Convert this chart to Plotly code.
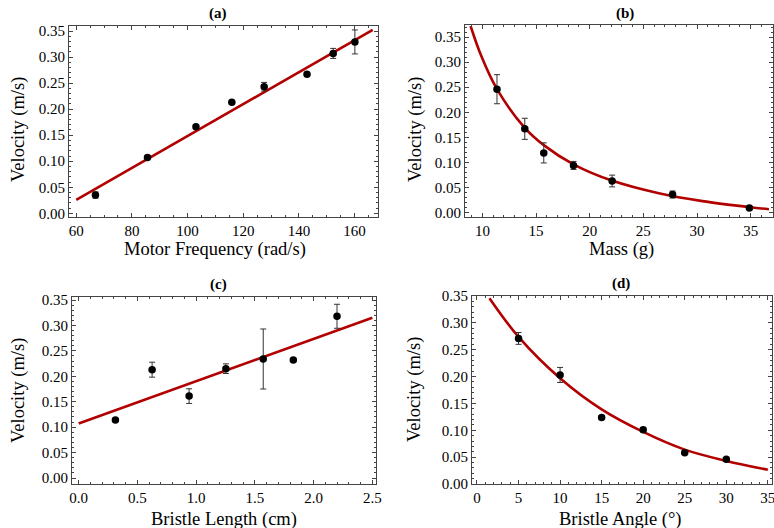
import plotly.graph_objects as go

W, H = 774, 528
FONT = "Liberation Serif"
RED = "#b20000"
FRAME = "#444444"

# ---------------- data ----------------
# (a) Motor frequency
a_x = [66.9, 85.6, 103.0, 115.9, 127.5, 142.9, 152.3, 160.1]
a_y = [0.035, 0.107, 0.166, 0.213, 0.243, 0.267, 0.307, 0.329]
a_err = [0.006, 0.003, 0.004, 0.003, 0.0083, 0.003, 0.0096, 0.023]
a_fit_x = [60, 166.5]
a_fit_y = [0.026, 0.352]

# (b) Mass
b_x = [11.36, 13.95, 15.72, 18.49, 22.09, 27.72, 34.88]
b_y = [0.246, 0.167, 0.119, 0.094, 0.063, 0.036, 0.009]
b_err = [0.029, 0.021, 0.020, 0.008, 0.0117, 0.007, 0.003]
b_fit_x = [8.9, 9.9, 11.36, 13.95, 15.72, 18.49, 22.06, 26.54, 30.5, 34.93, 36.7]
b_fit_y = [0.372, 0.312, 0.246, 0.169, 0.1345, 0.0962, 0.0638, 0.038, 0.0228, 0.0107, 0.0068]

# (c) Bristle length
c_x = [0.3125, 0.625, 0.94, 1.253, 1.571, 1.827, 2.199]
c_y = [0.114, 0.213, 0.161, 0.215, 0.234, 0.232, 0.318]
c_err = [0.003, 0.0147, 0.0144, 0.0095, 0.059, 0.003, 0.0236]
c_fit_x = [0.0, 2.5]
c_fit_y = [0.107, 0.315]

# (d) Bristle angle
d_x = [5, 10, 15, 20, 25, 30]
d_y = [0.271, 0.203, 0.124, 0.101, 0.058, 0.046]
d_err = [0.011, 0.014, 0.003, 0.004, 0.003, 0.003]
d_fit_x = [1.5, 5, 10, 15, 20, 25, 30, 35]
d_fit_y = [0.346, 0.274, 0.197, 0.139, 0.097, 0.064, 0.043, 0.0265]

panels = [
    dict(name="(a)", xl="Motor Frequency (rad/s)", x=a_x, y=a_y, e=a_err, fx=a_fit_x, fy=a_fit_y,
         box=(69, 378, 26, 217), xr=[57.4, 168.4], yr=[-0.0071, 0.3596], dx=20, mdx=5, xf=None,
         title_xy=(218, 13), xlab_xy=(215, 249), ylab_xy=(18, 130)),
    dict(name="(b)", xl="Mass (g)", x=b_x, y=b_y, e=b_err, fx=b_fit_x, fy=b_fit_y,
         box=(465, 773, 25, 217), xr=[8.38, 37.08], yr=[-0.0088, 0.374], dx=5, mdx=1, xf=None,
         title_xy=(625, 13), xlab_xy=(621, 249), ylab_xy=(415, 130)),
    dict(name="(c)", xl="Bristle Length (cm)", x=c_x, y=c_y, e=c_err, fx=c_fit_x, fy=c_fit_y,
         box=(72, 376, 297, 484), xr=[-0.057, 2.531], yr=[-0.0118, 0.3559], dx=0.5, mdx=0.1, xf=".1f",
         title_xy=(218, 284), xlab_xy=(224, 519), ylab_xy=(18, 391)),
    dict(name="(d)", xl="Bristle Angle (°)", x=d_x, y=d_y, e=d_err, fx=d_fit_x, fy=d_fit_y,
         box=(472, 772, 296, 484), xr=[-0.6, 35.5], yr=[0.0, 0.35], dx=5, mdx=1, xf=None,
         title_xy=(621, 283), xlab_xy=(620, 519), ylab_xy=(414, 389)),
]

fig = go.Figure()
annotations = []
layout = dict(template="none", width=W, height=H, autosize=False,
              margin=dict(l=0, r=0, t=0, b=0, pad=0, autoexpand=False),
              paper_bgcolor="white", plot_bgcolor="white", showlegend=False,
              font=dict(family=FONT, color="black"))


def px(x):
    return x / W


def py(y):
    return 1 - y / H


for i, p in enumerate(panels, start=1):
    sfx = "" if i == 1 else str(i)
    xa, ya = "x" + sfx, "y" + sfx
    fig.add_trace(go.Scatter(x=p["fx"], y=p["fy"], mode="lines",
                             line=dict(color=RED, width=2.6, shape="spline"),
                             xaxis=xa, yaxis=ya, hoverinfo="skip"))
    fig.add_trace(go.Scatter(x=p["x"], y=p["y"], mode="markers",
                             marker=dict(color="black", size=7.5),
                             error_y=dict(type="data", array=p["e"], visible=True,
                                          color="#333333", thickness=1, width=3),
                             xaxis=xa, yaxis=ya))
    l, r, t, b = p["box"]
    common = dict(showline=True, linecolor=FRAME, linewidth=1, mirror="allticks",
                  ticks="inside", ticklen=4, tickwidth=1, tickcolor=FRAME,
                  showgrid=False, zeroline=False, automargin=False,
                  ticklabeloverflow="allow",
                  tickfont=dict(family=FONT, size=15, color="black"))
    xaxis = dict(common, domain=[px(l), px(r)], range=p["xr"], anchor=ya,
                 tick0=0, dtick=p["dx"],
                 minor=dict(ticks="inside", ticklen=2, tickcolor=FRAME, dtick=p["mdx"], tick0=0,
                            showgrid=False))
    if p["xf"]:
        xaxis["tickformat"] = p["xf"]
    yaxis = dict(common, domain=[py(b), py(t)], range=p["yr"], anchor=xa,
                 tick0=0, dtick=0.05, tickformat=".2f",
                 minor=dict(ticks="inside", ticklen=2, tickcolor=FRAME, dtick=0.01, tick0=0,
                            showgrid=False))
    layout["xaxis" + sfx] = xaxis
    layout["yaxis" + sfx] = yaxis

    tx, ty = p["title_xy"]
    annotations.append(dict(text="<b>" + p["name"] + "</b>", x=px(tx), y=py(ty),
                            xref="paper", yref="paper", showarrow=False,
                            font=dict(family=FONT, size=15, color="black"),
                            xanchor="center", yanchor="middle"))
    lx, ly = p["xlab_xy"]
    annotations.append(dict(text=p["xl"], x=px(lx), y=py(ly), xref="paper", yref="paper",
                            showarrow=False, font=dict(family=FONT, size=18.5, color="black"),
                            xanchor="center", yanchor="middle"))
    vx, vy = p["ylab_xy"]
    annotations.append(dict(text="Velocity (m/s)", x=px(vx), y=py(vy), xref="paper", yref="paper",
                            showarrow=False, textangle=-90,
                            font=dict(family=FONT, size=18.5, color="black"),
                            xanchor="center", yanchor="middle"))

layout["annotations"] = annotations
fig.update_layout(**layout)

post = "document.body.style.margin='0';document.body.style.overflow='hidden';"
fig.write_html("out.html", config={"displayModeBar": False}, post_script=post)
